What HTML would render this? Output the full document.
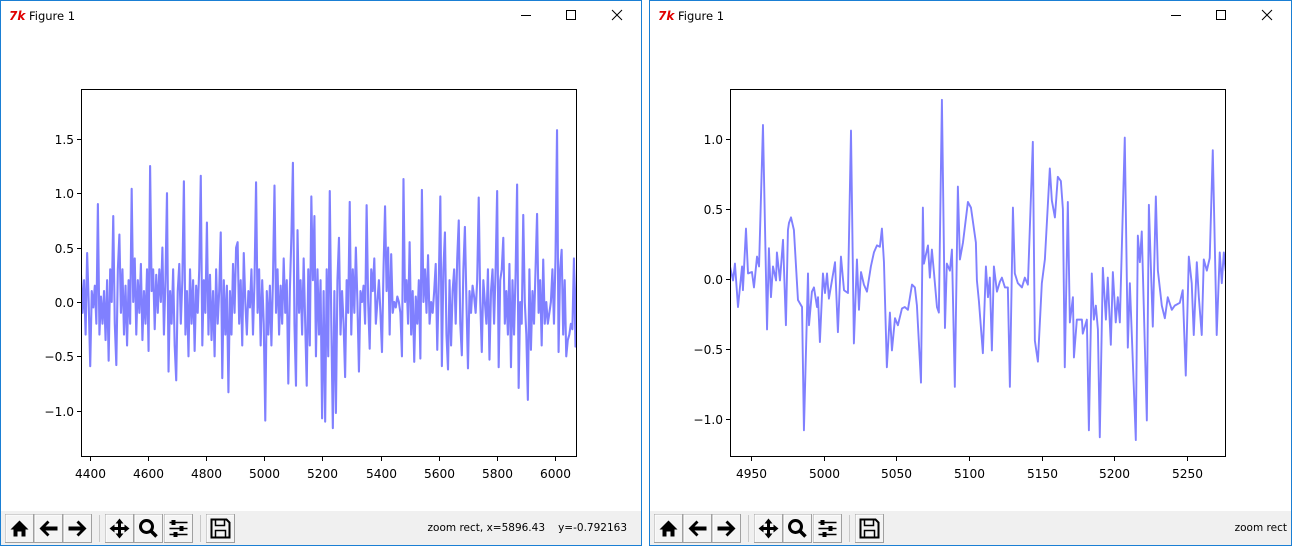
<!DOCTYPE html>
<html><head><meta charset="utf-8">
<style>
html,body{margin:0;padding:0;background:#fff;}
body{width:1292px;height:546px;overflow:hidden;position:relative;font-family:"DejaVu Sans","Liberation Sans",sans-serif;}
svg text{font-family:"DejaVu Sans","Liberation Sans",sans-serif;}
</style></head>
<body>
<svg id="root" width="1292" height="546" viewBox="0 0 1292 546" xmlns="http://www.w3.org/2000/svg"></svg>
<script>
// ---------- LEFT CHART DATA (evenly spaced samples over x range) ----------
const leftXMin = 4369, leftXMax = 6076;
const leftYTicks = [1.5, 1.0, 0.5, 0.0, -0.5, -1.0];
const leftXTicks = [4400, 4600, 4800, 5000, 5200, 5400, 5600, 5800, 6000];
const leftYMin = -1.425, leftYMax = 1.958;
const leftValues = [0.25,-0.1,0.2,-0.3,0.45,0.0,-0.59,0.1,-0.05,0.15,-0.2,0.9,-0.3,0.05,-0.2,0.1,-0.35,0.2,-0.54,0.3,0.0,0.79,-0.2,-0.58,0.3,0.62,-0.1,0.3,-0.3,0.15,-0.4,0.2,-0.2,1.04,0.0,0.4,-0.3,0.2,-0.1,0.35,-0.35,0.1,-0.2,0.3,-0.45,1.25,0.1,0.3,-0.25,0.25,-0.1,0.3,0.0,0.5,-0.3,0.2,1.0,-0.64,0.1,-0.2,0.3,-0.4,-0.72,0.1,0.35,-0.2,0.2,1.11,-0.3,0.1,-0.5,0.3,-0.2,0.2,-0.45,0.15,-0.1,0.3,1.16,-0.4,0.2,-0.1,0.73,-0.3,0.25,-0.35,0.1,-0.5,0.3,-0.2,0.1,0.64,-0.7,0.2,-0.3,0.15,-0.83,0.1,-0.3,0.35,-0.1,0.5,0.55,-0.2,0.2,-0.4,0.45,0.0,-0.3,0.1,-0.05,0.3,-0.3,0.2,1.1,-0.1,0.3,-0.4,0.2,-0.2,-1.09,0.1,-0.3,0.15,-0.4,0.2,1.07,-0.1,0.3,-0.3,0.15,-0.2,0.4,-0.1,0.2,-0.75,0.1,0.6,1.28,-0.2,-0.77,0.66,-0.1,0.2,-0.3,0.4,-0.2,-0.77,0.3,-0.4,0.97,0.2,0.79,-0.5,0.3,-0.3,0.2,-1.07,0.1,-1.1,0.3,-0.5,1.02,-0.2,-1.16,0.1,-1.02,0.2,0.59,-0.3,0.1,-0.2,-0.69,0.2,-0.1,0.92,-0.3,0.3,-0.1,0.5,0.0,-0.64,0.1,0.0,0.15,-0.2,0.89,0.0,-0.43,0.3,0.1,0.4,-0.2,0.0,0.2,-0.1,-0.46,0.3,0.88,0.1,0.5,-0.3,0.44,-0.1,0.0,-0.05,0.05,0.0,-0.1,-0.5,1.13,0.0,0.2,-0.2,0.55,-0.3,0.1,-0.55,0.05,-0.2,0.2,-0.52,1.03,0.0,0.3,-0.1,0.43,-0.2,0.0,-0.1,0.1,0.35,-0.44,0.2,0.97,-0.59,0.3,0.64,-0.3,-0.62,0.2,-0.4,0.1,0.3,-0.2,0.4,0.75,-0.2,-0.49,0.3,0.69,0.0,-0.61,0.1,-0.1,0.15,0.05,-0.1,0.2,0.96,0.0,-0.46,0.2,0.0,-0.2,0.3,-0.53,0.1,0.3,-0.2,0.3,1.02,-0.6,0.2,0.3,0.59,-0.2,0.1,-0.3,0.35,-0.6,0.2,-0.3,0.25,1.08,-0.79,0.0,-0.2,0.8,0.0,-0.3,-0.9,0.3,-0.44,0.1,-0.2,0.3,0.81,-0.1,0.2,-0.4,0.39,-0.2,0.0,-0.2,-0.1,0.0,0.3,-0.2,0.4,1.58,-0.46,0.3,0.48,-0.3,0.2,-0.5,-0.35,-0.3,-0.2,-0.25,0.4,-0.41,0.3];

// ---------- RIGHT CHART DATA ----------
const rightXMin = 4935.5, rightXMax = 5277.0;
const rightYMin = -1.271, rightYMax = 1.357;
const rightYTicks = [1.0, 0.5, 0.0, -0.5, -1.0];
const rightXTicks = [4950, 5000, 5050, 5100, 5150, 5200, 5250];
const rightX = [4935.5,4937.6,4938.9,4941.0,4943.8,4944.4,4946.5,4947.9,4950.6,4952.0,4954.1,4955.5,4958.2,4961.0,4962.3,4963.7,4965.1,4967.2,4967.8,4969.9,4972.0,4974.0,4975.4,4976.1,4977.5,4979.5,4982.3,4985.1,4986.4,4989.2,4989.9,4991.9,4993.3,4995.4,4996.1,4997.4,4999.5,5000.9,5002.3,5003.6,5005.7,5007.8,5009.8,5011.9,5014.0,5016.7,5018.8,5020.8,5022.9,5024.3,5025.7,5027.7,5029.8,5032.5,5034.6,5036.7,5038.7,5040.1,5041.5,5043.5,5045.6,5047.0,5049.1,5051.1,5053.9,5055.9,5058.0,5060.8,5062.8,5064.2,5067.0,5068.3,5069.0,5071.8,5073.1,5074.5,5075.9,5078.0,5079.3,5081.4,5083.5,5084.8,5086.9,5088.3,5090.3,5092.4,5093.8,5095.9,5099.3,5101.4,5104.8,5105.5,5106.9,5109.6,5111.7,5113.1,5114.4,5115.8,5117.2,5119.3,5121.3,5122.7,5124.8,5126.8,5128.2,5130.3,5131.6,5133.7,5136.5,5138.5,5140.6,5144.0,5145.4,5147.5,5150.2,5152.3,5155.7,5157.1,5159.2,5161.2,5163.3,5164.7,5166.0,5168.1,5169.5,5171.6,5172.3,5174.3,5177.8,5178.4,5181.2,5182.6,5184.6,5186.0,5187.4,5188.8,5190.1,5192.2,5194.3,5195.6,5197.7,5199.1,5201.1,5202.5,5203.9,5207.3,5209.4,5210.8,5214.9,5216.3,5217.7,5219.0,5222.5,5223.9,5226.6,5228.7,5230.1,5232.8,5234.9,5236.9,5239.7,5241.7,5245.2,5247.2,5249.3,5251.4,5253.4,5254.8,5256.9,5258.3,5260.3,5261.7,5263.8,5265.8,5267.9,5270.6,5272.7,5274.1,5275.5,5276.8,5279.6];
const rightY = [0.09,-0.01,0.11,-0.20,0.09,-0.08,0.36,0.04,0.05,-0.06,0.16,0.09,1.10,-0.36,0.22,-0.13,0.09,-0.01,0.19,-0.01,0.28,-0.33,0.35,0.40,0.44,0.35,-0.15,-0.20,-1.08,0.04,-0.33,-0.09,-0.06,-0.20,-0.13,-0.45,0.04,-0.10,0.04,-0.14,-0.01,0.12,-0.38,0.16,-0.08,-0.10,1.06,-0.46,0.14,-0.22,0.05,-0.04,-0.09,0.09,0.19,0.24,0.23,0.36,0.12,-0.63,-0.24,-0.51,-0.28,-0.33,-0.21,-0.20,-0.22,-0.04,-0.06,-0.19,-0.74,0.51,0.11,0.24,0.01,0.21,0.05,-0.20,-0.24,1.28,-0.35,0.11,0.06,0.21,-0.77,0.66,0.14,0.26,0.55,0.51,0.26,-0.01,-0.16,-0.53,0.09,-0.13,0.01,-0.51,0.09,-0.09,-0.02,0.01,-0.06,-0.06,-0.77,0.51,0.04,-0.03,-0.06,0.01,-0.04,0.98,-0.44,-0.59,-0.03,0.14,0.79,0.56,0.44,0.73,0.70,0.50,-0.63,0.55,-0.31,-0.13,-0.56,-0.29,-0.29,-0.39,-0.29,-1.08,0.04,-0.29,-0.19,-0.36,-1.13,0.08,-0.29,0.01,-0.47,0.05,-0.31,-0.13,-0.31,1.01,-0.49,-0.03,-1.15,0.31,0.12,0.34,-1.01,0.53,-0.34,0.59,0.06,-0.19,-0.28,-0.13,-0.22,-0.19,-0.17,-0.08,-0.69,0.16,-0.03,-0.40,0.12,-0.13,-0.40,0.14,0.06,0.15,0.92,-0.40,0.19,-0.03,0.19,0.06,0.10];

const NS = 'http://www.w3.org/2000/svg';
const root = document.getElementById('root');
function mk(tag, attrs, parent, txt){
  const e = document.createElementNS(NS, tag);
  for (const k in attrs) e.setAttribute(k, attrs[k]);
  if (txt !== undefined) e.textContent = txt;
  (parent || root).appendChild(e);
  return e;
}
function fmt(v){ const s = v.toFixed(1); return v < 0 ? '\u2212' + s.slice(1) : s; }

function drawWindow(ox, w, name, statusParts){
  const g = mk('g', {});
  
  
  const fr = mk('rect', {x: ox + 0.5, y: 0.5, width: w - 1, height: 545, fill: '#fff', stroke: '#1a7fd4', 'stroke-width': 1}, g);
  
  
  const ic = mk('text', {x: ox + 9, y: 20, fill: '#e00000', 'font-size': 12, 'font-style': 'italic', 'font-weight': 'bold'}, g, '7k');
  
  
  const tt = mk('text', {x: ox + 29, y: 20, fill: '#000', 'font-size': 11.5, 'font-family': 'Liberation Sans, sans-serif'}, g, 'Figure 1');
  
  
  const R = ox + w;
  const mn = mk('line', {x1: R - 121, y1: 15.5, x2: R - 111, y2: 15.5, stroke: '#000', 'stroke-width': 1}, g);
  
  
  const mx = mk('rect', {x: R - 75.5, y: 10.5, width: 9, height: 9, fill: 'none', stroke: '#000', 'stroke-width': 1}, g);
  
  
  const cl = mk('path', {d: `M${R-30},10 L${R-20},20 M${R-20},10 L${R-30},20`, stroke: '#000', 'stroke-width': 1, fill: 'none'}, g);
  
  
  const tb = mk('rect', {x: ox + 1, y: 511, width: w - 2, height: 34, fill: '#f0f0f0'}, g);
  
  
  const btns = [['home-button',5],['back-button',34],['forward-button',63],['pan-button',105],['zoom-button',134],['subplots-button',164],['save-button',206]];
  btns.forEach(([n, bx]) => {
    const x = ox + bx;
    const b = mk('g', {}, g);
    
    
    mk('rect', {x: x + 0.5, y: 514.5, width: 28, height: 28, fill: '#f4f4f4', stroke: '#a0a0a0'}, b);
    mk('path', {d: `M${x+1},542 V515 H${x+28}`, stroke: '#fff', fill: 'none'}, b);
    const cx = x + 14.5, cy = 528.5;
    if (n === 'home-button') { mk('path', {d: `M${cx-9},${cy+1} L${cx},${cy-8} L${cx+9},${cy+1} L${cx+6},${cy+1} L${cx+6},${cy+8} L${cx+2},${cy+8} L${cx+2},${cy+3} L${cx-2},${cy+3} L${cx-2},${cy+8} L${cx-6},${cy+8} L${cx-6},${cy+1} Z`, fill: '#000'}, b); }
    if (n === 'back-button') { mk('path', {d: `M${cx-9},${cy} L${cx-1},${cy-8} L${cx+1},${cy-6} L${cx-3},${cy-2} L${cx+9},${cy-2} L${cx+9},${cy+2} L${cx-3},${cy+2} L${cx+1},${cy+6} L${cx-1},${cy+8} Z`, fill: '#000'}, b); }
    if (n === 'forward-button') { mk('path', {d: `M${cx+9},${cy} L${cx+1},${cy-8} L${cx-1},${cy-6} L${cx+3},${cy-2} L${cx-9},${cy-2} L${cx-9},${cy+2} L${cx+3},${cy+2} L${cx-1},${cy+6} L${cx+1},${cy+8} Z`, fill: '#000'}, b); }
    if (n === 'pan-button') { mk('path', {d: `M${cx},${cy-10} L${cx-4},${cy-5} H${cx+4} Z M${cx},${cy+10} L${cx-4},${cy+5} H${cx+4} Z M${cx-10},${cy} L${cx-5},${cy-4} V${cy+4} Z M${cx+10},${cy} L${cx+5},${cy-4} V${cy+4} Z`, fill: '#000'}, b); mk('path', {d: `M${cx},${cy-6} V${cy+6} M${cx-6},${cy} H${cx+6}`, stroke: '#000', 'stroke-width': 3}, b); }
    if (n === 'zoom-button') { mk('circle', {cx: cx - 2, cy: cy - 2, r: 6, fill: 'none', stroke: '#000', 'stroke-width': 3}, b); mk('line', {x1: cx + 2, y1: cy + 2, x2: cx + 8, y2: cy + 8, stroke: '#000', 'stroke-width': 3.5}, b); }
    if (n === 'subplots-button') { [-6, 0, 6].forEach((o, i) => { mk('line', {x1: cx - 9, y1: cy + o, x2: cx + 9, y2: cy + o, stroke: '#000', 'stroke-width': 1.5}, b); mk('rect', {x: cx + [-5, 3, -3][i] - 2, y: cy + o - 2.5, width: 4, height: 5, fill: '#000'}, b); }); }
    if (n === 'save-button') { mk('path', {d: `M${cx-9},${cy-9} H${cx+6} L${cx+9},${cy-6} V${cy+9} H${cx-9} Z`, fill: 'none', stroke: '#000', 'stroke-width': 2}, b); mk('rect', {x: cx - 5, y: cy - 9, width: 9, height: 6, fill: 'none', stroke: '#000', 'stroke-width': 1.5}, b); mk('rect', {x: cx - 5, y: cy + 2, width: 10, height: 7, fill: 'none', stroke: '#000', 'stroke-width': 1.5}, b); }
  });
  [99, 200].forEach(sx => {
    const s = mk('line', {x1: ox + sx + 0.5, y1: 515, x2: ox + sx + 0.5, y2: 542, stroke: '#c8c8c8'}, g);
    
    
  });
  statusParts.forEach(([txt, endX]) => {
    const st = mk('text', {x: ox + endX, y: 531, 'text-anchor': 'end', 'font-size': 10.5, fill: '#000', 'font-family': 'Liberation Sans, sans-serif'}, g, txt);
    
    
  });
}

function drawChart(cfg){
  const {name, L, T, Rr, B, xmin, xmax, ymin, ymax, xs, ys, xticks, yticks} = cfg;
  const sx = v => L + (v - xmin) / (xmax - xmin) * (Rr - L);
  const sy = v => B - (v - ymin) / (ymax - ymin) * (B - T);
  const g = mk('g', {});
  
  
  const cid = name + '-clip';
  const cp = mk('clipPath', {id: cid}, g);
  mk('rect', {x: L, y: T, width: Rr - L, height: B - T}, cp);
  let d = '';
  xs.forEach((x, i) => { d += (i ? 'L' : 'M') + sx(x).toFixed(2) + ',' + sy(ys[i]).toFixed(2); });
  const line = mk('path', {d, fill: 'none', stroke: '#8080ff', 'stroke-width': cfg.lw, 'stroke-linejoin': 'round', 'clip-path': `url(#${cid})`}, g);
  
  
  const box = mk('rect', {x: L + 0.5, y: T + 0.5, width: Rr - L - 1, height: B - T - 1, fill: 'none', stroke: '#000', 'stroke-width': 1}, g);
  
  
  xticks.forEach(t => {
    const x = Math.round(sx(t)) + 0.5;
    const tk = mk('line', {x1: x, y1: B, x2: x, y2: B + 4, stroke: '#000'}, g);
    
    
    const lb = mk('text', {x: x, y: B + 21, 'text-anchor': 'middle', 'font-size': 12.2, fill: '#000'}, g, String(t));
    
    
  });
  yticks.forEach(t => {
    const y = Math.round(sy(t)) + 0.5;
    const tk = mk('line', {x1: L - 4, y1: y, x2: L, y2: y, stroke: '#000'}, g);
    
    
    const lb = mk('text', {x: L - 7, y: y + 4.5, 'text-anchor': 'end', 'font-size': 12.2, fill: '#000'}, g, fmt(t));
    
    
  });
}

drawWindow(0, 642, 'left-window', [['zoom rect, x=5896.43', 545], ['y=-0.792163', 627]]);
drawWindow(649, 643, 'right-window', [['zoom rect', 638]]);

const leftX = leftValues.map((v, i) => leftXMin + i * (leftXMax - leftXMin) / (leftValues.length - 1));
drawChart({name: 'left-chart', L: 81, T: 89, Rr: 577, B: 457, xmin: leftXMin, xmax: leftXMax, ymin: leftYMin, ymax: leftYMax, xs: leftX, ys: leftValues, xticks: leftXTicks, yticks: leftYTicks, lw: 2.1});
drawChart({name: 'right-chart', L: 730, T: 89, Rr: 1226, B: 457, xmin: rightXMin, xmax: rightXMax, ymin: rightYMin, ymax: rightYMax, xs: rightX, ys: rightY, xticks: rightXTicks, yticks: rightYTicks, lw: 1.9});
</script>
</body></html>
